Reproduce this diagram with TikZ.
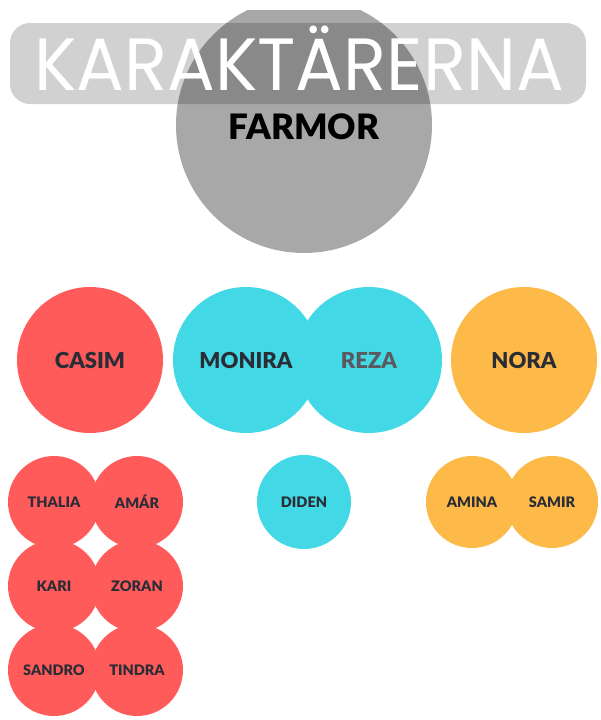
\documentclass[tikz,border=0pt]{standalone}
\usepackage{fontspec}
\setmainfont{Lato}
\newfontfamily\heavy{Lato Black}
\newfontfamily\titlefont{Poppins}
\definecolor{cred}{HTML}{FF5B5B}
\definecolor{ccyan}{HTML}{42D8E5}
\definecolor{corange}{HTML}{FDBA48}
\definecolor{cgray}{HTML}{A8A8A8}
\definecolor{ctxt}{HTML}{2B2D36}
\definecolor{creza}{HTML}{5A5A5E}
\begin{document}
\begin{tikzpicture}[x=1pt,y=-1pt,
  person/.style={circle, inner sep=0pt, minimum size=#1, text=ctxt},
  big/.style={font=\heavy\fontsize{22}{26}\selectfont},
  small/.style={font=\heavy\fontsize{14.5}{18}\selectfont}]
\useasboundingbox (0,0) rectangle (601,720);
\fill[white] (0,0) rectangle (601,720);
\begin{scope}
  \clip (0,10) rectangle (601,720);
  \node[person=256pt, fill=cgray] (farmor) at (304,125) {};
\end{scope}
\node[inner sep=0pt, text=black, font=\heavy\fontsize{35}{40}\selectfont] (farmortext) at (304,127) {FARMOR};
\node[rounded corners=20pt, fill=black, fill opacity=0.18, minimum width=576pt, minimum height=81pt, inner sep=0pt] (banner) at (298,63.5) {};
\node[anchor=base, inner sep=0pt, text depth=0pt, text=white, font=\titlefont\fontsize{74}{74}\selectfont] (title) at (299,90) {\scalebox{0.958}[1]{KARAKTÄRERNA}};
% middle row
\node[person=146pt, fill=cred, big] (casim) at (90,360) {CASIM};
\node[person=146pt, fill=ccyan, big] (monira) at (246,360) {MONIRA};
\node[person=146pt, fill=ccyan, big, text=creza] (reza) at (369,360) {REZA};
\node[person=146pt, fill=corange, big] (nora) at (524,360) {NORA};
% bottom
\node[person=92pt, fill=cred, small] (thalia) at (54,502) {THALIA};
\node[person=92pt, fill=cred, small] (amar) at (137,502) {AMÁR};
\node[person=92pt, fill=cred, small] (kari) at (54,586) {KARI};
\node[person=92pt, fill=cred, small] (zoran) at (137,586) {ZORAN};
\node[person=92pt, fill=cred, small] (sandro) at (54,670) {SANDRO};
\node[person=92pt, fill=cred, small] (tindra) at (137,670) {TINDRA};
\node[person=94pt, fill=ccyan, small] (diden) at (304,502) {DIDEN};
\node[person=92pt, fill=corange, small] (amina) at (472,502) {AMINA};
\node[person=92pt, fill=corange, small] (samir) at (552,502) {SAMIR};
\end{tikzpicture}
\end{document}
